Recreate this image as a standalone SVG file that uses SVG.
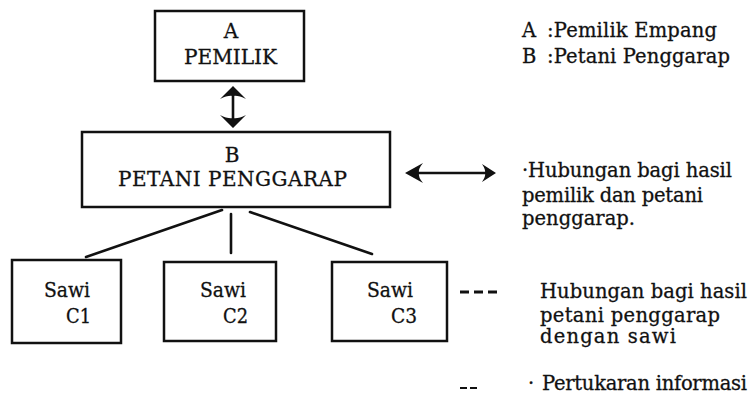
<svg xmlns="http://www.w3.org/2000/svg" width="748" height="394" viewBox="0 0 748 394">
<style>
  .box{fill:#fff;stroke:#111;stroke-width:2.5}
  .t{font-family:"DejaVu Serif","Liberation Serif",serif;font-size:20px;fill:#111;stroke:#111;stroke-width:0.3}
  .l{font-family:"DejaVu Serif","Liberation Serif",serif;font-size:19.5px;fill:#111;stroke:#111;stroke-width:0.3}
  .ln{stroke:#111;stroke-width:2.6;fill:none;stroke-linecap:round}
  .head{fill:#111;stroke:none}
</style>
<rect width="748" height="394" fill="#fff"/>
<g id="connectors">
  <line class="ln" x1="233" y1="93" x2="233" y2="121" stroke-width="3"/>
  <path class="head" d="M233,86 L246,99 Q238,95 233,96 Q228,95 220,99 Z"/>
  <path class="head" d="M233,128 L246,115 Q238,119 233,118 Q228,119 220,115 Z"/>
  <line class="ln" x1="222" y1="210" x2="86" y2="257"/>
  <line class="ln" x1="231" y1="214" x2="231" y2="253"/>
  <line class="ln" x1="250" y1="212" x2="372" y2="254"/>
</g>
<g id="nodeA">
  <rect class="box" x="155" y="11" width="149" height="70"/>
  <text class="t" x="231" y="38" text-anchor="middle">A</text>
  <text class="t" x="184" y="64" textLength="93" lengthAdjust="spacingAndGlyphs">PEMILIK</text>
</g>
<g id="nodeB">
  <rect class="box" x="82" y="132" width="308" height="75"/>
  <text class="t" x="232" y="162" text-anchor="middle">B</text>
  <text class="t" x="118" y="186" textLength="229">PETANI PENGGARAP</text>
</g>
<g id="nodeC1">
  <rect class="box" x="12" y="260" width="109" height="83"/>
  <text class="t" x="44" y="297" textLength="46" lengthAdjust="spacingAndGlyphs">Sawi</text>
  <text class="t" x="66" y="323" textLength="25" lengthAdjust="spacingAndGlyphs">C1</text>
</g>
<g id="nodeC2">
  <rect class="box" x="164" y="262" width="112" height="79"/>
  <text class="t" x="200" y="297" textLength="46" lengthAdjust="spacingAndGlyphs">Sawi</text>
  <text class="t" x="223" y="323" textLength="25" lengthAdjust="spacingAndGlyphs">C2</text>
</g>
<g id="nodeC3">
  <rect class="box" x="332" y="262" width="115" height="79"/>
  <text class="t" x="367" y="297" textLength="46" lengthAdjust="spacingAndGlyphs">Sawi</text>
  <text class="t" x="391" y="323" textLength="26" lengthAdjust="spacingAndGlyphs">C3</text>
</g>
<g id="legend">
  <text class="l" x="522" y="37">A</text>
  <text class="l" x="547" y="37" textLength="170">:Pemilik Empang</text>
  <text class="l" x="522" y="63">B</text>
  <text class="l" x="547" y="63" textLength="183">:Petani Penggarap</text>
  <line class="ln" x1="414" y1="173" x2="487" y2="173" stroke-width="3"/>
  <path class="head" d="M405,173 L423,163 Q418,169 419,173 Q418,177 423,183 Z"/>
  <path class="head" d="M496,173 L482,164 Q486,170 485,173 Q486,176 482,182 Z"/>
  <text class="l" x="522" y="177" textLength="210">·Hubungan bagi hasil</text>
  <text class="l" x="522" y="202" textLength="181">pemilik dan petani</text>
  <text class="l" x="522" y="225" textLength="113">penggarap.</text>
  <line x1="460" y1="292" x2="498" y2="292" stroke="#111" stroke-width="3" stroke-dasharray="9 5"/>
  <text class="l" x="540" y="298" textLength="207">Hubungan bagi hasil</text>
  <text class="l" x="540" y="322" textLength="180">petani penggarap</text>
  <text class="l" x="540" y="343" textLength="136">dengan sawi</text>
  <line x1="460" y1="388" x2="477" y2="388" stroke="#111" stroke-width="2.2" stroke-dasharray="7 3"/>
  <text class="l" x="528" y="390">·</text>
  <text class="l" x="542" y="390" textLength="205">Pertukaran informasi</text>
</g>
</svg>
